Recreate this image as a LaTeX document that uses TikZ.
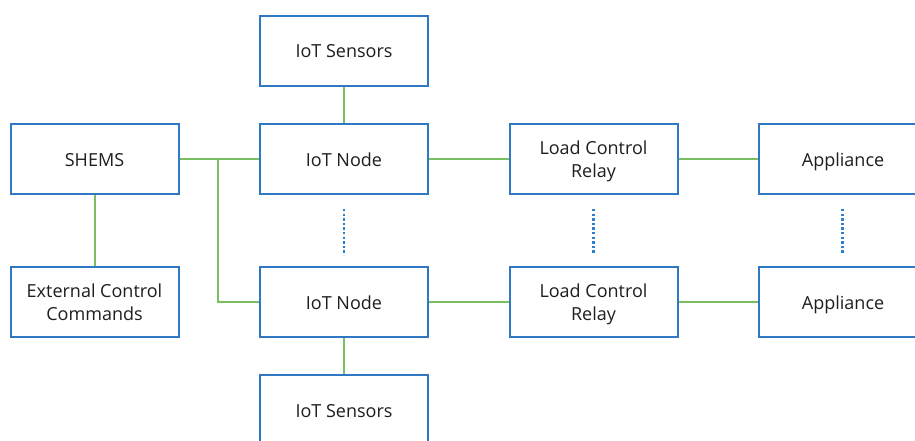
\documentclass[tikz,border=0pt]{standalone}
\usepackage{fontspec}
\setmainfont{Open Sans}
\definecolor{boxblue}{RGB}{46,120,196}
\definecolor{dotblue}{RGB}{40,128,205}
\definecolor{linkgreen}{RGB}{122,190,98}
\definecolor{textgray}{RGB}{30,30,30}
% centred label block, set a little below the natural centre
\newcommand\cellstack[1]{\raisebox{-2.3pt}[\height][\depth]{\begin{tabular}{@{}c@{}}#1\end{tabular}}}
\begin{document}
\begin{tikzpicture}[x=1pt,y=-1pt,
  box/.style={draw=boxblue, line width=2pt, fill=white,
    minimum width=168pt, minimum height=70pt, inner sep=0pt,
    text=textgray, font=\fontsize{18}{23.5}\selectfont},
  link/.style={draw=linkgreen, line width=2pt},
  more/.style={draw=dotblue, line width=2.6pt, dash pattern=on 2.4pt off 2.2pt}]
\useasboundingbox (0,0) rectangle (915,441);
\clip (0,0) rectangle (915,441);

% upper row
\node[box] (sensT) at (344,51)    {\cellstack{IoT Sensors}};
\node[box] (shems) at (94.5,159)  {\cellstack{SHEMS}};
\node[box] (node1) at (344,159)   {\cellstack{IoT Node}};
\node[box] (lcr1)  at (593.5,159) {\cellstack{Load Control\\Relay}};
\node[box] (app1)  at (843,159)   {\cellstack{Appliance}};

% lower row
\node[box] (ext)   at (94.5,302)  {\cellstack{External Control\\Commands}};
\node[box] (node2) at (344,302)   {\cellstack{IoT Node}};
\node[box] (lcr2)  at (593.5,302) {\cellstack{Load Control\\Relay}};
\node[box] (app2)  at (843,302)   {\cellstack{Appliance}};
\node[box] (sensB) at (344,410)   {\cellstack{IoT Sensors}};

% links
\coordinate (j) at (218,159);
\draw[link] (shems.east) -- (node1.west);
\draw[link] (j) |- (node2.west);
\draw[link] (shems.south) -- (ext.north);
\draw[link] (sensT.south) -- (node1.north);
\draw[link] (node2.south) -- (sensB.north);
\draw[link] (node1.east) -- (lcr1.west);
\draw[link] (lcr1.east) -- (app1.west);
\draw[link] (node2.east) -- (lcr2.west);
\draw[link] (lcr2.east) -- (app2.west);

% repeated-unit markers
\coordinate (m1a) at (344,209);   \coordinate (m1b) at (344,255);
\coordinate (m2a) at (593.5,209); \coordinate (m2b) at (593.5,254);
\coordinate (m3a) at (842.5,209); \coordinate (m3b) at (842.5,254);
\draw[more] (m1a) -- (m1b);
\draw[more] (m2a) -- (m2b);
\draw[more] (m3a) -- (m3b);
\end{tikzpicture}
\end{document}
